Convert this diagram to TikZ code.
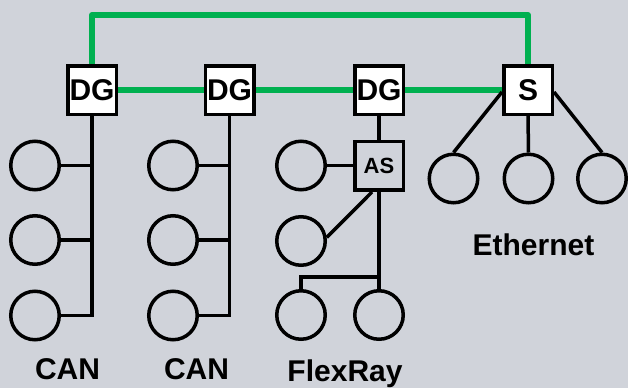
\documentclass[tikz,border=0pt]{standalone}
\usepackage{fontspec}
\setmainfont{Liberation Sans}
\definecolor{bg}{RGB}{208,211,218}
\definecolor{grn}{RGB}{0,176,80}
\begin{document}
\begin{tikzpicture}[x=1pt,y=-1pt,
  box/.style={draw=black,fill=white,line width=3.5pt,minimum size=48.5pt,inner sep=0pt,font=\fontsize{30}{30}\selectfont\bfseries},
  sbox/.style={box,fill=none,font=\fontsize{22}{22}\selectfont\bfseries},
  ecu/.style={circle,draw=black,line width=3.5pt,minimum size=48.5pt,inner sep=0pt},
  bus/.style={draw=black,line width=3.5pt},
  gbus/.style={draw=grn,line width=6pt,line join=round},
  lbl/.style={font=\fontsize{30}{30}\selectfont\bfseries,inner sep=0pt}]
\fill[bg] (0,0) rectangle (628,388);
\useasboundingbox (0,0) rectangle (628,388);
% gateways and switch
\node[box] (dg1) at (92,90) {DG};
\node[box] (dg2) at (229.5,90) {DG};
\node[box] (dg3) at (379,90) {DG};
\node[box] (s) at (528,90) {S};
\node[sbox] (as) at (379,165.5) {AS};
% green backbone
\coordinate (tl) at (92,15);
\coordinate (tr) at (528,15);
\draw[gbus] (dg1.north) -- (tl) -- (tr) -- (s.north);
\draw[gbus] (dg1.east) -- (dg2.west);
\draw[gbus] (dg2.east) -- (dg3.west);
\draw[gbus] (dg3.east) -- (s.west);
% CAN 1
\node[ecu] (a1) at (35,165.5) {};
\node[ecu] (a2) at (35,240) {};
\node[ecu] (a3) at (35,315.5) {};
\draw[bus] (dg1.south) |- (a3.east);
\draw[bus] (a1.east) -- (a1.east -| dg1.south);
\draw[bus] (a2.east) -- (a2.east -| dg1.south);
% CAN 2
\node[ecu] (b1) at (173,165.5) {};
\node[ecu] (b2) at (173,240) {};
\node[ecu] (b3) at (173,315.5) {};
\draw[bus] (dg2.south) |- (b3.east);
\draw[bus] (b1.east) -- (b1.east -| dg2.south);
\draw[bus] (b2.east) -- (b2.east -| dg2.south);
% FlexRay
\node[ecu] (f1) at (301,165.5) {};
\node[ecu] (f2) at (301,241) {};
\node[ecu] (f3) at (301,315) {};
\node[ecu] (f4) at (379,315) {};
\draw[bus] (dg3.south) -- (as.north);
\draw[bus] (f1.east) -- (as.west);
\coordinate (asb) at (372,192);
\draw[bus] (asb) -- (f2.8);
\coordinate (fj) at (379,277);
\draw[bus] (as.south) -- (f4.north);
\draw[bus] (fj) -| (f3.north);
% Ethernet
\node[ecu] (e1) at (453.5,178.5) {};
\node[ecu] (e2) at (528.5,178.5) {};
\node[ecu] (e3) at (602,178.5) {};
\draw[bus] (s.west |- 0,92) -- (e1.north);
\draw[bus] (s.south) -- (e2.north);
\draw[bus] (s.east |- 0,92) -- (e3.north);
% labels
\node[lbl] at (67.5,369.5) {CAN};
\node[lbl] at (196.5,369.5) {CAN};
\node[lbl,anchor=base] at (345,381) {FlexRay};
\node[lbl] at (533.5,245) {Ethernet};
\end{tikzpicture}
\end{document}
